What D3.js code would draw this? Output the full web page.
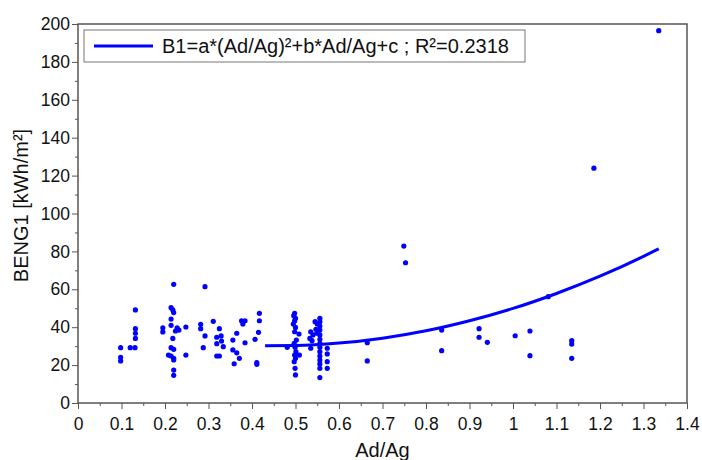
<!DOCTYPE html>
<html>
<head>
<meta charset="utf-8">
<script src="https://cdn.jsdelivr.net/npm/d3@7"></script>
<style>
  body { margin: 0; background: #fff; }
  text { font-family: "Liberation Sans", Arial, sans-serif; }
</style>
</head>
<body>
<div id="chart-area"></div>
<script>
/*
*    BENG1 vs Ad/Ag scatter with quadratic fit
*/

// measured points (Ad/Ag, BENG1)
var adAg = [
    0.098, 0.098, 0.098, 0.120, 0.131, 0.132, 0.132, 0.132, 0.132,
    0.220, 0.214, 0.218, 0.220, 0.214, 0.214, 0.195, 0.195, 0.228, 0.232, 0.224, 0.248,
    0.218, 0.214, 0.220, 0.208, 0.214, 0.220, 0.220, 0.220, 0.220, 0.248,
    0.292, 0.282, 0.282, 0.292, 0.288, 0.311, 0.325, 0.319, 0.329, 0.330, 0.319, 0.334, 0.319, 0.325,
    0.365, 0.356, 0.356, 0.365, 0.371, 0.359, 0.376, 0.384, 0.379, 0.384,
    0.417, 0.417, 0.415, 0.407, 0.411, 0.411,
    0.498, 0.496, 0.500, 0.498, 0.495, 0.500, 0.498, 0.502, 0.497, 0.499, 0.501, 0.498, 0.500, 0.497, 0.499, 0.500,
    0.508, 0.481, 0.509,
    0.535, 0.540, 0.533, 0.538, 0.535, 0.545, 0.550, 0.547, 0.549,
    0.556, 0.556, 0.556, 0.556, 0.556, 0.556, 0.556, 0.556, 0.556, 0.556, 0.556, 0.556, 0.556, 0.556,
    0.573, 0.573, 0.573, 0.573,
    0.665, 0.665, 0.749, 0.753, 0.836, 0.836, 0.922, 0.922, 0.941,
    1.005, 1.039, 1.039, 1.081, 1.135, 1.135, 1.135, 1.186, 1.335
];
var beng1 = [
    29.2, 24.1, 22.2, 29.2, 29.2, 49.1, 39.2, 36.8, 34.1,
    62.6, 50.3, 49.1, 47.7, 44.3, 41.0, 39.7, 37.5, 39.6, 38.5, 38.0, 40.1,
    34.1, 29.2, 28.3, 25.3, 24.8, 23.6, 22.7, 17.4, 14.6, 25.3,
    61.4, 41.5, 39.2, 35.4, 29.2, 43.1, 39.2, 34.7, 35.4, 32.7, 31.3, 29.7, 24.8, 24.8,
    36.8, 33.2, 28.0, 26.5, 23.6, 20.7, 43.4, 43.4, 41.7, 31.8,
    47.3, 43.4, 37.3, 33.6, 21.3, 20.4,
    47.3, 46.1, 44.7, 43.3, 41.7, 39.9, 37.6, 33.2, 31.5, 29.4, 27.1, 25.3, 23.6, 21.8, 18.3, 14.8,
    36.4, 29.4, 25.3,
    37.6, 35.9, 34.1, 32.9, 28.9, 42.9, 41.7, 38.9, 36.8,
    44.7, 42.9, 40.6, 38.5, 35.9, 33.6, 31.5, 29.4, 27.1, 24.8, 22.7, 20.6, 18.3, 13.4,
    28.9, 25.9, 21.8, 18.3,
    31.8, 22.2, 82.8, 74.0, 38.5, 27.6, 39.2, 34.7, 32.0,
    35.5, 38.0, 25.0, 56.1, 32.9, 31.1, 23.6, 123.9, 196.5
];

// fitted curve
var fitX = [0.43, 0.5, 0.6, 0.7, 0.8, 0.9, 1.0, 1.1, 1.2, 1.3, 1.335];
var fitY = [30.2, 30.3, 31.6, 34.2, 38.1, 43.4, 49.9, 57.8, 66.9, 77.4, 81.4];

var xTicks = [0, 0.1, 0.2, 0.3, 0.4, 0.5, 0.6, 0.7, 0.8, 0.9, 1, 1.1, 1.2, 1.3, 1.4];
var yTicks = [0, 20, 40, 60, 80, 100, 120, 140, 160, 180, 200];
var legendLabel = "B1=a*(Ad/Ag)²+b*Ad/Ag+c ; R²=0.2318";

var margin = { left: 78, right: 15, top: 24, bottom: 57 },
    width = 702 - margin.left - margin.right,
    height = 460 - margin.top - margin.bottom;

var svg = d3.select("#chart-area").append("svg")
    .attr("width", 702)
    .attr("height", 460);
var g = svg.append("g")
    .attr("transform", "translate(" + margin.left + "," + margin.top + ")");

var x = d3.scaleLinear().domain([0, 1.4]).range([0, width]);
var y = d3.scaleLinear().domain([0, 200]).range([height, 0]);

var axisColor = "#555";

// minor ticks
var xMinor = g.append("g")
    .attr("transform", "translate(0," + height + ")")
    .call(d3.axisBottom(x).tickValues(d3.range(0.05, 1.4, 0.1)).tickSize(3).tickFormat(""));
var yMinor = g.append("g")
    .call(d3.axisLeft(y).tickValues(d3.range(10, 200, 20)).tickSize(3).tickFormat(""));

// x-axis
var xAxis = g.append("g")
    .attr("class", "x axis")
    .attr("transform", "translate(0," + height + ")")
    .call(d3.axisBottom(x).tickValues(xTicks).tickSize(6).tickPadding(5)
        .tickFormat(d3.format("~g")));

// y-axis
var yAxis = g.append("g")
    .attr("class", "y axis")
    .call(d3.axisLeft(y).tickValues(yTicks).tickSize(6).tickPadding(2));

[xMinor, yMinor, xAxis, yAxis].forEach(function(a) {
    a.select(".domain").remove();
    a.selectAll("line").attr("stroke", axisColor);
    a.selectAll("text")
        .attr("font-size", "17.5px")
        .attr("fill", "#111");
});
xAxis.selectAll("text").attr("dy", "0.9em");

// frame
g.append("rect")
    .attr("width", width)
    .attr("height", height)
    .attr("fill", "none")
    .attr("stroke", axisColor)
    .attr("stroke-width", 1.5);

// labels
g.append("text")
    .attr("x", width / 2)
    .attr("y", height + 54)
    .attr("font-size", "20px")
    .attr("text-anchor", "middle")
    .attr("fill", "#111")
    .text("Ad/Ag");
g.append("text")
    .attr("transform", "rotate(-90)")
    .attr("x", -height / 2 + 8)
    .attr("y", -50)
    .attr("font-size", "20px")
    .attr("text-anchor", "middle")
    .attr("fill", "#111")
    .text("BENG1 [kWh/m²]");

// points
g.selectAll("circle.pt")
    .data(d3.range(adAg.length))
    .enter().append("circle")
    .attr("class", "pt")
    .attr("cx", function(i) { return x(adAg[i]); })
    .attr("cy", function(i) { return y(beng1[i]); })
    .attr("r", 2.6)
    .attr("fill", "#0000ff");

// fit line
var line = d3.line()
    .x(function(i) { return x(fitX[i]); })
    .y(function(i) { return y(fitY[i]); })
    .curve(d3.curveMonotoneX);
g.append("path")
    .attr("d", line(d3.range(fitX.length)))
    .attr("fill", "none")
    .attr("stroke", "#0000ff")
    .attr("stroke-width", 3);

// legend
var legend = g.append("g").attr("transform", "translate(6,6)");
legend.append("rect")
    .attr("width", 441)
    .attr("height", 32)
    .attr("fill", "#fff")
    .attr("stroke", "#777");
legend.append("line")
    .attr("x1", 10).attr("x2", 69)
    .attr("y1", 16).attr("y2", 16)
    .attr("stroke", "#0000ff")
    .attr("stroke-width", 3);
legend.append("text")
    .attr("x", 78)
    .attr("y", 23)
    .attr("font-size", "20px")
    .attr("fill", "#111")
    .text(legendLabel);
</script>
</body>
</html>
